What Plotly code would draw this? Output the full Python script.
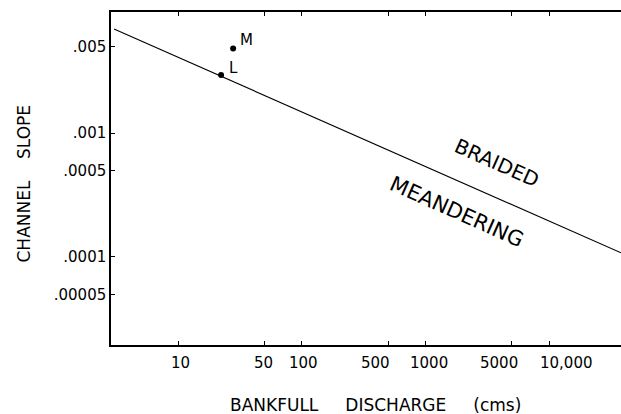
import numpy as np
import plotly.graph_objects as go

# Regime line (read endpoints)
line_q = [3.04, 38100]
line_s = [0.0069, 0.000108]

# Named points
point_q = [27.9, 22.3]
point_s = [0.0048, 0.00294]
point_labels = ["M", "L"]

# Region labels
region_labels = ["BRAIDED", "MEANDERING"]
region_q = [3794, 1799]
region_s = [0.000573, 0.000231]

x_tickvals = [10, 50, 100, 500, 1000, 5000, 10000]
x_ticktext = ["10", "50", "100", "500", "1000", "5000", "10,000"]
y_tickvals = [0.005, 0.001, 0.0005, 0.0001, 0.00005]
y_ticktext = [".005", ".001", ".0005", ".0001", ".00005"]

FONT = "DejaVu Sans"
nb = "\u00a0"

# hand-lettered x tick labels sit slightly off their ticks (pixel shifts)
x_label_shift = [2, -1, 2, -13, 4, -13, 17]

fig = go.Figure()
fig.add_trace(go.Scatter(x=line_q, y=line_s, mode="lines",
                         line=dict(color="black", width=1.1), showlegend=False,
                         hoverinfo="skip"))
fig.add_trace(go.Scatter(x=point_q, y=point_s, mode="markers",
                         marker=dict(color="black", size=6), showlegend=False))

for lab, q, s, dx, dy in zip(point_labels, point_q, point_s, [13, 12], [9, 7]):
    fig.add_annotation(x=np.log10(q), y=np.log10(s), text=lab, showarrow=False,
                       xshift=dx, yshift=dy, font=dict(family=FONT, size=15, color="black"))

for lab, q, s, sz in zip(region_labels, region_q, region_s, [20, 21]):
    fig.add_annotation(x=np.log10(q), y=np.log10(s), text=lab, showarrow=False,
                       textangle=24, font=dict(family=FONT, size=sz, color="black"))

for v, t, sh in zip(x_tickvals, x_ticktext, x_label_shift):
    fig.add_annotation(x=np.log10(v), xref="x", y=-(363 - 345) / 333, yref="paper",
                       text=t, showarrow=False, xshift=sh, yanchor="middle", xanchor="center",
                       font=dict(family=FONT, size=15, color="black"))

fig.add_annotation(xref="paper", yref="paper", x=(375 - 111) / 510, y=-(405 - 345) / 333,
                   text="BANKFULL" + nb * 5 + "DISCHARGE" + nb * 5 + "(cms)",
                   showarrow=False, yanchor="middle", xanchor="center",
                   font=dict(family=FONT, size=17, color="black"))
fig.add_annotation(xref="paper", yref="paper", x=-(111 - 23) / 510, y=(345 - 183.5) / 333,
                   text="CHANNEL" + nb * 4 + "SLOPE", textangle=-90,
                   showarrow=False, yanchor="middle", xanchor="center",
                   font=dict(family=FONT, size=17, color="black"))

fig.update_xaxes(type="log", range=[0.4584, 4.581], tickvals=x_tickvals,
                 showticklabels=False, automargin=False,
                 showline=True, linecolor="black", linewidth=1.5, mirror="ticks",
                 ticks="inside", ticklen=4, tickcolor="black", showgrid=False, zeroline=False)
fig.update_yaxes(type="log", range=[-4.710, -2.024], tickvals=y_tickvals, ticktext=y_ticktext,
                 automargin=False,
                 showline=True, linecolor="black", linewidth=1.5, mirror=False,
                 ticks="inside", ticklen=4, tickcolor="black", showgrid=False, zeroline=False,
                 tickfont=dict(family=FONT, size=15, color="black"))

fig.update_layout(width=621, height=414, margin=dict(l=111, r=0, t=12, b=69),
                  plot_bgcolor="white", paper_bgcolor="white", showlegend=False)

fig.write_html("out.html", config={"displayModeBar": False},
               post_script="document.body.style.margin='0';")
